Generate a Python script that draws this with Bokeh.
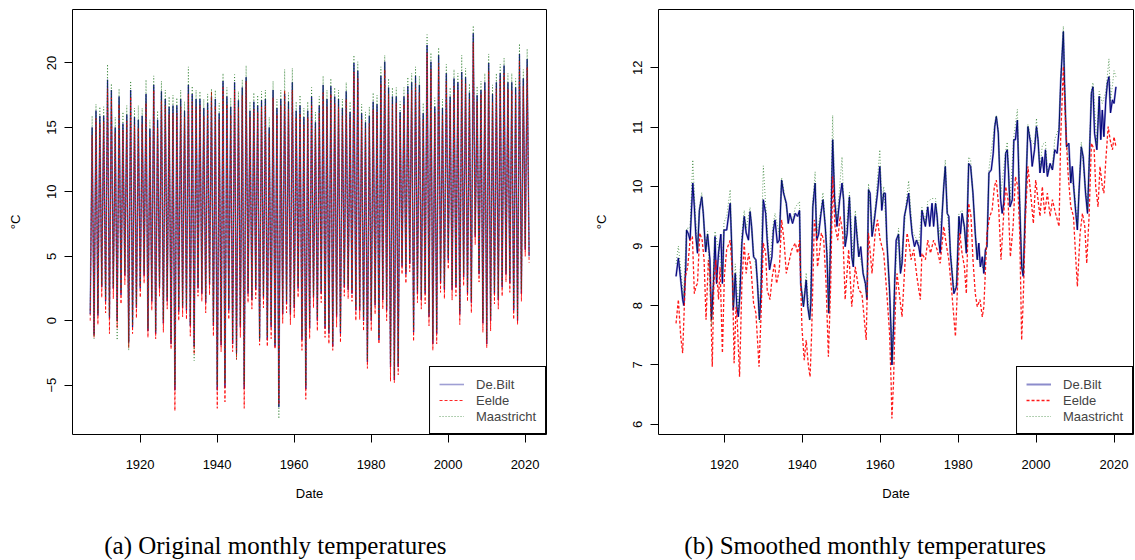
from bokeh.plotting import figure
from bokeh.models import Range1d, FixedTicker, Legend, LegendItem
from bokeh.core.properties import value
from bokeh.layouts import row, column
from bokeh.embed import file_html
from bokeh.resources import INLINE

# ---------------- data: monthly temperatures (winter trough / summer peak per year) ----------------
WINTER_YEARS = list(range(1907, 2022))   # January values
SUMMER_YEARS = list(range(1907, 2021))   # July values

WINTER_DEBILT = [
    0.5, -1.1, 0.4, 2.6, 1.5, 0.2, 2.5, 0.0, 2.0, 3.5,
    -1.7, -0.5, 1.0, 2.5, 3.5, -0.8, 1.5, -1.0, 2.5, -0.2,
    1.5, -1.8, -5.4, 0.7, 1.0, 0.8, -0.4, -2.0, 2.5, 2.1,
    1.4, 2.8, -0.4, -5.4, -1.9, -5.2, 0.8, -1.8, -2.5, -0.5,
    -5.3, 2.1, 1.6, 2.4, -1.4, 1.8, -1.5, -0.5, -2.0, -6.7,
    0.5, 1.3, 0.5, 1.0, 2.5, -1.5, -5.3, -0.6, 1.8, 0.0,
    2.1, -0.6, -1.0, -2.0, 0.3, -1.0, 2.6, 2.4, 2.1, 0.8,
    0.8, 0.0, -3.2, 0.0, 1.2, -1.5, 1.6, 0.8, -3.6, -4.6,
    -3.6, 4.2, 3.6, 4.4, -0.9, 2.1, 1.6, 2.1, 0.3, -1.8,
    -1.0, 2.9, 2.4, 4.7, 2.4, 2.6, 0.5, 3.4, 2.1, 1.4,
    6.5, 3.6, -0.2, -1.8, 0.0, 2.1, 1.6, 2.6, 3.6, 2.9,
    0.8, 0.0, 2.1, 5.5, 5.0]
WINTER_EELDE = [
    0.0, -1.3, -0.3, 1.8, 0.6, -1.0, 1.7, -0.6, 1.3, 2.8,
    -2.1, -1.0, 0.2, 1.8, 2.9, -1.3, 0.8, -1.4, 1.9, -0.9,
    0.9, -2.2, -7.0, 0.0, 0.3, 0.1, -1.2, -2.6, 1.9, 1.5,
    0.6, 2.0, -1.2, -6.8, -2.4, -6.3, 0.1, -2.4, -3.0, -1.3,
    -6.8, 1.4, 0.9, 1.7, -1.9, 1.0, -2.0, -1.4, -2.2, -6.5,
    -0.2, 0.6, -0.3, 0.2, 1.8, -2.3, -6.1, -1.4, 1.0, -0.8,
    1.4, -1.3, -1.8, -2.3, -0.5, -1.7, 1.9, 1.7, 1.5, 0.0,
    0.1, -0.8, -3.7, -0.8, 0.5, -1.8, 0.9, 0.0, -4.7, -4.8,
    -4.2, 3.6, 2.9, 3.8, -1.6, 1.4, 0.9, 1.3, -0.4, -2.3,
    -1.8, 2.2, 1.7, 4.0, 1.6, 1.9, -0.3, 2.7, 1.5, 0.6,
    5.9, 3.0, -0.9, -2.1, -0.8, 1.3, 0.9, 1.9, 3.0, 2.2,
    0.1, -0.3, 1.5, 5.0, 4.5]
WINTER_MAASTRICHT = [
    0.8, -1.4, 0.6, 2.8, 1.8, 0.4, 2.7, -1.5, 2.3, 3.8,
    -2.3, -0.3, 1.2, 2.8, 3.8, -0.6, 1.8, -0.8, 2.7, 0.1,
    1.8, -1.5, -5.0, 1.0, 1.2, 1.1, -0.2, -3.1, 2.8, 2.4,
    1.7, 3.0, -0.1, -5.0, -1.6, -4.8, 1.1, -1.5, -3.0, -0.2,
    -4.9, 2.4, 1.9, 2.7, -1.5, 2.0, -1.2, -0.2, -1.8, -7.6,
    0.8, 1.6, 0.8, 1.3, 2.8, -1.2, -5.0, -0.3, 2.0, 0.3,
    2.4, -0.3, -0.7, -1.7, 0.6, -0.7, 2.9, 2.7, 2.4, 1.1,
    1.1, 0.3, -3.0, 0.3, 1.5, -1.2, 1.9, 1.1, -3.3, -4.3,
    -3.3, 4.5, 3.9, 4.7, -0.6, 2.4, 1.9, 2.4, 0.6, -1.5,
    -0.7, 3.2, 2.7, 5.0, 2.7, 2.9, 0.8, 3.7, 2.4, 1.7,
    6.8, 3.9, 0.1, -1.5, 0.3, 2.4, 1.9, 2.9, 3.9, 3.2,
    1.1, 0.3, 2.4, 5.8, 5.3]

SUMMER_DEBILT = [
    15.0, 16.3, 15.9, 15.9, 18.7, 17.9, 15.0, 17.4, 15.3, 16.0,
    17.9, 15.8, 15.6, 15.9, 17.6, 14.9, 18.3, 15.6, 17.8, 17.2,
    16.6, 16.7, 16.7, 17.2, 16.3, 18.3, 17.6, 17.2, 17.2, 16.5,
    16.9, 17.4, 17.2, 16.1, 18.6, 17.4, 16.6, 18.5, 17.1, 18.1,
    18.9, 16.3, 17.0, 16.7, 17.1, 17.2, 15.0, 17.9, 16.5, 17.2,
    17.6, 17.0, 18.5, 16.3, 16.7, 15.8, 16.3, 17.4, 15.4, 16.7,
    18.3, 17.2, 18.2, 17.4, 17.2, 16.5, 17.8, 16.2, 20.0, 19.4,
    16.1, 15.4, 15.9, 17.0, 16.8, 19.0, 20.1, 18.1, 17.4, 17.4,
    16.2, 17.4, 18.2, 18.5, 19.0, 18.3, 16.1, 21.4, 20.1, 16.6,
    20.6, 16.5, 19.2, 17.4, 18.8, 18.5, 19.3, 18.9, 17.7, 22.3,
    17.5, 17.9, 18.5, 20.0, 17.6, 18.5, 19.2, 19.8, 18.5, 18.5,
    18.1, 20.7, 18.8, 20.3]
SUMMER_EELDE = [
    14.4, 15.7, 15.3, 15.5, 18.0, 17.3, 14.6, 16.8, 14.8, 15.5,
    17.4, 15.2, 15.0, 15.3, 16.9, 14.3, 17.9, 15.0, 17.1, 16.7,
    16.0, 16.1, 16.1, 16.6, 15.8, 17.6, 17.0, 16.6, 16.7, 15.9,
    16.4, 17.8, 16.7, 15.6, 18.1, 16.8, 16.0, 17.9, 16.6, 17.5,
    18.6, 15.8, 16.4, 16.2, 16.6, 16.7, 14.5, 17.3, 16.0, 16.7,
    17.9, 16.4, 17.9, 15.8, 16.1, 15.2, 15.8, 16.8, 14.9, 16.1,
    17.7, 16.6, 17.6, 16.9, 16.6, 15.9, 17.2, 15.7, 19.3, 18.8,
    15.6, 14.9, 15.3, 16.4, 16.2, 18.4, 19.5, 17.6, 16.8, 16.9,
    15.7, 16.8, 17.6, 17.9, 18.4, 17.7, 15.6, 20.8, 19.5, 16.1,
    20.0, 16.0, 18.6, 16.9, 18.2, 17.9, 18.7, 18.4, 17.2, 21.6,
    17.0, 17.6, 17.9, 19.4, 17.0, 18.0, 18.7, 19.2, 18.0, 17.9,
    17.6, 20.2, 18.2, 19.7]
SUMMER_MAASTRICHT = [
    15.9, 16.8, 16.6, 16.6, 19.9, 18.4, 15.8, 18.0, 16.2, 16.7,
    18.6, 16.5, 16.7, 16.5, 18.7, 15.6, 19.0, 16.3, 18.6, 17.9,
    17.4, 17.5, 17.3, 17.9, 17.0, 19.7, 18.2, 17.9, 17.8, 17.2,
    17.6, 18.0, 17.9, 16.9, 19.2, 18.1, 17.3, 19.1, 17.8, 18.7,
    19.8, 17.0, 17.7, 17.5, 17.8, 17.9, 15.8, 18.6, 17.2, 17.9,
    19.5, 17.7, 19.6, 17.0, 17.5, 16.5, 17.0, 18.1, 16.2, 17.4,
    19.0, 17.9, 18.8, 18.1, 17.9, 17.2, 18.5, 17.0, 20.6, 20.1,
    16.8, 16.2, 16.6, 17.7, 17.5, 19.7, 20.6, 18.8, 18.1, 18.1,
    17.0, 18.1, 18.9, 19.2, 19.7, 19.0, 16.9, 22.2, 20.8, 17.3,
    21.2, 17.2, 19.9, 18.1, 19.5, 19.2, 20.6, 19.6, 18.4, 22.9,
    18.2, 18.6, 19.2, 20.7, 18.3, 19.2, 19.9, 20.4, 19.2, 19.2,
    18.8, 21.5, 19.5, 21.1]

# ---------------- data: smoothed monthly temperatures ----------------
SMOOTH_DEBILT_DATE = [
    1907.6, 1908.2, 1908.8, 1909.3, 1909.6, 1910.1, 1910.3, 1910.8, 1911.2, 1911.9,
    1912.3, 1912.7, 1913.1, 1913.6, 1914.2, 1914.6, 1915.2, 1915.7, 1916.3, 1916.7,
    1917.2, 1917.6, 1918.0, 1918.5, 1919.1, 1919.5, 1919.9, 1920.6, 1921.5, 1921.9,
    1922.3, 1922.8, 1923.2, 1923.6, 1924.0, 1924.5, 1925.1, 1925.6, 1926.2, 1926.6,
    1927.0, 1927.5, 1928.1, 1928.5, 1929.0, 1929.4, 1930.0, 1930.6, 1931.0, 1931.6,
    1932.2, 1932.6, 1933.0, 1933.6, 1934.1, 1934.7, 1935.2, 1935.9, 1936.4, 1936.8,
    1937.5, 1938.2, 1938.8, 1939.3, 1939.6, 1940.3, 1941.0, 1941.4, 1941.9, 1942.2,
    1942.7, 1943.3, 1943.7, 1944.2, 1944.8, 1945.3, 1945.9, 1946.3, 1946.8, 1947.3,
    1947.8, 1948.3, 1948.9, 1949.6, 1950.2, 1950.6, 1951.0, 1951.5, 1952.1, 1952.7,
    1953.1, 1953.6, 1954.0, 1954.5, 1955.0, 1955.6, 1956.2, 1956.6, 1957.0, 1957.4,
    1957.9, 1958.3, 1958.7, 1959.3, 1959.9, 1960.4, 1960.9, 1961.3, 1961.7, 1962.4,
    1962.8, 1963.0, 1963.4, 1963.7, 1964.1, 1964.7, 1965.2, 1965.6, 1966.2, 1966.7,
    1967.3, 1967.7, 1968.2, 1968.8, 1969.3, 1969.9, 1970.3, 1970.7, 1971.2, 1971.6,
    1972.2, 1972.7, 1973.3, 1973.7, 1974.2, 1974.6, 1975.0, 1975.4, 1975.9, 1976.3,
    1976.7, 1977.2, 1977.6, 1978.0, 1978.9, 1979.6, 1980.2, 1980.6, 1981.0, 1981.6,
    1982.1, 1982.7, 1983.2, 1983.8, 1984.4, 1984.9, 1985.3, 1985.7, 1986.2, 1986.6,
    1987.0, 1987.4, 1987.9, 1988.5, 1989.0, 1989.4, 1989.8, 1990.3, 1990.9, 1991.3,
    1991.7, 1992.2, 1992.6, 1992.9, 1993.3, 1993.9, 1994.3, 1994.7, 1995.2, 1995.6,
    1996.3, 1996.7, 1997.3, 1997.9, 1998.6, 1999.0, 1999.6, 2000.1, 2000.5, 2001.0,
    2001.6, 2002.0, 2002.4, 2002.9, 2003.6, 2004.2, 2004.8, 2005.4, 2005.9, 2006.3,
    2007.0, 2007.3, 2007.8, 2008.4, 2008.9, 2009.3, 2009.7, 2010.2, 2010.6, 2011.0,
    2011.6, 2012.1, 2012.7, 2013.2, 2013.6, 2014.2, 2014.6, 2015.0, 2015.6, 2016.2,
    2016.6, 2017.0, 2017.4, 2017.9, 2018.3, 2018.7, 2019.1, 2019.6, 2020.0, 2020.5]
SMOOTH_DEBILT = [
    8.49, 8.80, 8.43, 8.10, 8.00, 8.65, 9.27, 9.20, 9.10, 10.06,
    9.66, 9.16, 8.88, 9.60, 9.83, 9.55, 8.90, 9.20, 8.77, 7.76,
    8.37, 9.16, 8.37, 8.88, 9.20, 8.37, 9.27, 9.27, 9.72, 8.99,
    7.92, 8.54, 7.98, 7.81, 8.20, 9.05, 9.50, 9.22, 9.10, 9.58,
    9.33, 8.82, 8.77, 8.37, 7.76, 8.20, 9.78, 9.55, 9.10, 8.60,
    8.82, 9.27, 9.44, 9.05, 9.10, 10.11, 9.89, 9.72, 9.38, 9.55,
    9.38, 9.55, 9.50, 9.60, 8.37, 7.98, 8.43, 7.98, 7.76, 8.04,
    9.66, 10.06, 9.10, 9.20, 9.55, 9.78, 9.33, 8.88, 7.87, 9.20,
    10.79, 9.78, 9.33, 9.78, 10.06, 9.78, 8.99, 9.20, 9.83, 8.82,
    8.65, 9.50, 9.20, 8.82, 8.99, 8.54, 8.37, 8.10, 9.95, 9.89,
    9.16, 9.33, 9.55, 9.89, 10.34, 9.60, 9.89, 9.89, 9.10, 8.26,
    7.53, 7.00, 7.59, 8.37, 9.10, 9.20, 8.54, 8.71, 9.50, 9.66,
    9.89, 9.55, 9.20, 8.99, 9.10, 8.99, 8.82, 9.60, 9.44, 9.33,
    9.66, 9.33, 9.72, 9.33, 9.72, 9.50, 9.10, 8.88, 9.55, 10.00,
    10.34, 9.55, 9.50, 8.88, 8.20, 8.32, 9.50, 9.20, 9.55, 9.33,
    8.88, 10.39, 10.34, 9.89, 9.20, 8.77, 9.05, 8.65, 8.82, 8.54,
    8.94, 8.99, 10.23, 10.28, 10.56, 11.01, 11.18, 10.90, 9.78, 9.55,
    9.72, 10.56, 10.62, 10.28, 9.66, 9.78, 10.79, 10.79, 11.12, 10.11,
    8.65, 8.49, 9.78, 11.01, 10.73, 10.34, 10.62, 11.01, 10.79, 10.23,
    10.50, 10.23, 10.62, 10.17, 10.39, 10.28, 10.62, 10.56, 10.96, 11.74,
    12.61, 11.74, 10.67, 10.73, 10.06, 10.34, 9.95, 9.55, 9.27, 9.89,
    10.67, 10.50, 9.89, 9.55, 10.34, 11.57, 11.68, 10.90, 10.62, 11.52,
    10.79, 11.29, 10.84, 11.46, 11.74, 11.85, 11.24, 11.46, 11.40, 11.68]

SMOOTH_EELDE_DATE = [
    1907.6, 1908.2, 1908.8, 1909.3, 1910.0, 1910.6, 1911.2, 1911.8, 1912.3, 1912.7,
    1913.1, 1913.7, 1914.3, 1914.8, 1915.3, 1915.9, 1916.3, 1916.9, 1917.3, 1917.8,
    1918.5, 1918.9, 1919.5, 1920.0, 1920.6, 1921.5, 1922.1, 1922.5, 1923.0, 1923.3,
    1923.9, 1924.5, 1925.1, 1925.6, 1926.2, 1926.8, 1927.5, 1928.1, 1928.9, 1929.4,
    1930.0, 1930.6, 1931.0, 1931.7, 1932.3, 1932.9, 1933.4, 1934.1, 1934.7, 1935.3,
    1935.9, 1936.7, 1937.3, 1938.2, 1938.8, 1939.3, 1939.9, 1940.5, 1941.0, 1941.6,
    1942.0, 1942.4, 1943.1, 1943.6, 1943.9, 1944.4, 1944.9, 1945.5, 1946.1, 1946.7,
    1947.3, 1947.8, 1948.4, 1949.1, 1949.7, 1950.4, 1950.8, 1951.0, 1951.9, 1952.7,
    1953.6, 1954.5, 1955.3, 1956.4, 1957.0, 1957.9, 1958.7, 1959.3, 1960.0, 1960.9,
    1961.7, 1962.4, 1962.8, 1963.0, 1963.4, 1963.9, 1964.3, 1964.9, 1965.6, 1966.3,
    1966.9, 1967.5, 1967.9, 1968.6, 1969.4, 1970.3, 1970.7, 1971.6, 1972.2, 1972.9,
    1973.7, 1974.6, 1975.4, 1976.3, 1976.9, 1977.6, 1978.4, 1979.3, 1979.7, 1980.4,
    1981.0, 1981.6, 1982.1, 1982.7, 1983.3, 1983.8, 1984.4, 1984.9, 1985.6, 1986.2,
    1986.6, 1987.4, 1988.1, 1988.7, 1989.3, 1989.8, 1990.4, 1991.0, 1991.7, 1992.2,
    1992.8, 1993.4, 1994.1, 1994.7, 1995.3, 1995.8, 1996.3, 1996.7, 1997.3, 1997.9,
    1998.6, 1999.3, 1999.9, 2000.3, 2001.0, 2001.6, 2002.2, 2002.9, 2003.6, 2004.2,
    2005.0, 2005.9, 2006.3, 2007.0, 2007.6, 2008.2, 2008.9, 2009.6, 2010.2, 2010.6,
    2011.3, 2011.9, 2012.5, 2013.0, 2013.6, 2014.2, 2014.9, 2015.3, 2015.9, 2016.4,
    2017.0, 2017.4, 2017.9, 2018.5, 2019.0, 2019.6, 2020.0, 2020.5]
SMOOTH_EELDE = [
    7.70, 8.10, 7.48, 7.20, 8.49, 8.65, 9.10, 9.16, 8.20, 8.32,
    8.37, 9.22, 9.10, 8.77, 7.76, 8.77, 8.54, 6.97, 8.37, 8.77,
    8.10, 8.65, 7.20, 8.49, 8.94, 9.10, 8.49, 7.03, 7.98, 7.76,
    6.80, 8.37, 9.05, 8.54, 8.88, 8.65, 8.04, 7.87, 6.97, 7.81,
    9.05, 8.88, 8.26, 8.10, 8.49, 8.71, 8.37, 8.60, 9.44, 9.10,
    8.54, 8.77, 8.94, 9.05, 8.88, 9.10, 7.64, 7.08, 7.42, 6.97,
    6.80, 7.53, 9.44, 9.22, 8.65, 8.88, 9.22, 9.10, 8.37, 7.14,
    8.37, 10.17, 9.33, 9.10, 9.50, 9.22, 8.49, 8.10, 8.94, 7.98,
    8.65, 8.26, 8.20, 7.42, 9.22, 8.54, 9.22, 9.44, 9.10, 8.88,
    8.20, 7.53, 6.69, 6.10, 6.69, 7.98, 8.54, 8.20, 7.81, 8.65,
    9.22, 8.99, 8.77, 8.94, 8.49, 8.10, 8.88, 8.77, 9.10, 8.88,
    9.10, 8.94, 8.71, 9.33, 9.05, 8.77, 8.20, 7.48, 8.10, 9.22,
    8.88, 8.65, 8.20, 9.72, 9.50, 8.77, 8.20, 7.98, 8.10, 7.81,
    7.98, 9.22, 9.50, 9.60, 10.00, 10.11, 9.66, 8.77, 9.55, 10.00,
    9.78, 8.82, 9.33, 10.17, 10.00, 9.22, 7.42, 8.10, 9.50, 10.34,
    9.89, 9.38, 10.11, 9.89, 9.50, 10.00, 9.55, 9.89, 9.50, 9.78,
    9.55, 9.33, 10.79, 12.02, 11.01, 10.23, 9.66, 9.50, 8.77, 8.32,
    9.22, 9.55, 9.33, 8.71, 9.50, 10.73, 10.62, 10.00, 9.66, 10.34,
    10.00, 9.89, 10.45, 11.01, 10.79, 10.62, 10.84, 10.67]

SMOOTH_MAASTRICHT_DATE = [
    1907.6, 1908.2, 1908.8, 1909.5, 1910.3, 1911.2, 1911.9, 1912.5, 1913.1, 1913.6,
    1914.2, 1915.2, 1915.7, 1916.7, 1917.6, 1918.5, 1919.5, 1919.9, 1920.6, 1921.5,
    1922.3, 1922.8, 1923.6, 1924.5, 1925.1, 1925.6, 1926.6, 1927.5, 1928.5, 1929.0,
    1930.0, 1930.6, 1931.6, 1932.6, 1933.0, 1934.1, 1934.7, 1935.2, 1936.4, 1937.5,
    1938.2, 1939.3, 1939.6, 1940.3, 1941.0, 1941.9, 1942.7, 1943.3, 1943.7, 1944.8,
    1945.3, 1946.3, 1946.8, 1947.8, 1948.3, 1948.9, 1949.6, 1950.2, 1951.0, 1952.1,
    1953.1, 1953.6, 1954.5, 1955.6, 1956.6, 1957.0, 1957.9, 1958.7, 1959.9, 1960.4,
    1960.9, 1961.7, 1962.8, 1963.0, 1963.7, 1964.7, 1965.2, 1966.7, 1967.3, 1968.2,
    1969.9, 1970.7, 1971.6, 1972.2, 1973.3, 1974.2, 1975.0, 1975.9, 1976.7, 1977.2,
    1978.0, 1978.9, 1979.6, 1980.2, 1981.0, 1982.1, 1982.7, 1983.2, 1984.4, 1984.9,
    1986.6, 1987.4, 1987.9, 1989.4, 1989.8, 1990.3, 1990.9, 1992.2, 1992.6, 1993.3,
    1994.3, 1995.2, 1996.3, 1996.7, 1997.9, 1998.6, 1999.6, 2000.1, 2001.0, 2001.6,
    2002.4, 2002.9, 2004.2, 2004.8, 2005.9, 2006.3, 2007.0, 2007.3, 2007.8, 2008.9,
    2009.7, 2010.6, 2011.6, 2012.7, 2013.2, 2014.2, 2014.6, 2015.6, 2016.2, 2017.0,
    2017.9, 2018.7, 2019.1, 2019.6, 2020.0, 2020.5]
SMOOTH_MAASTRICHT = [
    8.70, 9.00, 8.60, 8.15, 9.30, 9.30, 10.45, 9.60, 8.95, 9.65,
    9.90, 8.95, 9.25, 7.65, 9.25, 8.95, 8.50, 9.40, 9.50, 9.95,
    8.00, 8.70, 7.90, 9.20, 9.60, 9.30, 9.65, 8.90, 8.45, 7.70,
    10.35, 9.70, 8.70, 9.40, 9.55, 9.20, 10.15, 9.95, 9.45, 9.45,
    9.65, 9.75, 8.40, 8.00, 8.55, 7.75, 9.75, 10.25, 9.20, 9.60,
    9.90, 9.00, 7.90, 11.20, 9.90, 9.45, 10.00, 10.50, 9.05, 9.90,
    8.70, 9.60, 8.90, 8.60, 8.15, 10.05, 9.25, 9.65, 10.62, 9.70,
    10.00, 9.15, 7.55, 7.05, 8.40, 9.30, 8.60, 9.75, 10.10, 9.25,
    9.05, 9.65, 9.40, 9.75, 9.80, 9.80, 9.15, 9.60, 10.45, 9.60,
    8.95, 8.25, 8.40, 9.55, 9.60, 8.95, 10.50, 10.45, 9.25, 8.80,
    8.60, 9.05, 10.30, 11.05, 11.20, 10.95, 9.85, 10.60, 10.75, 9.75,
    10.85, 11.30, 8.70, 8.55, 11.05, 10.80, 10.70, 11.15, 10.30, 10.70,
    10.75, 10.25, 10.35, 10.80, 11.00, 11.80, 12.70, 11.80, 10.75, 10.15,
    10.00, 9.35, 10.75, 9.95, 9.60, 11.62, 11.75, 10.70, 11.60, 11.40,
    11.60, 12.15, 11.45, 11.70, 11.95, 11.85]

X_TICKS = [1920, 1940, 1960, 1980, 2000, 2020]
Y_TICKS_LEFT = [-5, 0, 5, 10, 15, 20]
Y_TICKS_RIGHT = [6, 7, 8, 9, 10, 11, 12]
SERIES_NAMES = ["De.Bilt", "Eelde", "Maastricht"]
CAPTIONS = ["(a) Original monthly temperatures", "(b) Smoothed monthly temperatures"]


def interleave(winter, summer):
    xs, ys = [], []
    for i, yr in enumerate(WINTER_YEARS):
        xs.append(yr + 0.04)
        ys.append(winter[i])
        if i < len(SUMMER_YEARS):
            xs.append(SUMMER_YEARS[i] + 0.54)
            ys.append(summer[i])
    return xs, ys


SANS = "Liberation Sans"
SERIF = "Liberation Serif"
PANEL_H = 522
CAP_H = 38


def make_panel(width, bl, br, xr, yr, yticks):
    p = figure(width=width, height=PANEL_H, output_backend="svg", toolbar_location=None,
               x_range=Range1d(*xr), y_range=Range1d(*yr),
               min_border_left=bl, min_border_right=br, min_border_top=9,
               min_border_bottom=PANEL_H - 434)
    p.grid.visible = False
    p.outline_line_color = "black"
    p.outline_line_width = 1
    p.outline_line_alpha = 1
    p.background_fill_color = "white"
    p.border_fill_color = "white"
    for ax in (p.xaxis[0], p.yaxis[0]):
        ax.axis_line_color = None
        ax.major_tick_out = 8
        ax.major_tick_in = 0
        ax.minor_tick_line_color = None
        ax.major_tick_line_color = "black"
        ax.major_label_text_font = SANS
        ax.major_label_text_font_size = "13px"
        ax.major_label_text_color = "black"
        ax.axis_label_text_font = SANS
        ax.axis_label_text_font_size = "13px"
        ax.axis_label_text_font_style = "normal"
        ax.axis_label_text_color = "black"
    p.xaxis.ticker = FixedTicker(ticks=X_TICKS)
    p.yaxis.ticker = FixedTicker(ticks=yticks)
    p.xaxis.axis_label = "Date"
    p.yaxis.axis_label = "°C"
    p.xaxis.major_label_standoff = 17
    p.xaxis.axis_label_standoff = 14
    p.yaxis.major_label_orientation = "vertical"
    p.yaxis.major_label_standoff = 8
    p.yaxis.axis_label_standoff = 22
    return p


def make_caption(width, caption, x_left):
    c = figure(width=width, height=CAP_H, output_backend="svg", toolbar_location=None,
               x_range=Range1d(0, width), y_range=Range1d(0, CAP_H),
               x_axis_type=None, y_axis_type=None,
               min_border_left=0, min_border_right=0, min_border_top=0, min_border_bottom=0)
    c.grid.visible = False
    c.outline_line_color = None
    c.background_fill_color = "white"
    c.border_fill_color = "white"
    c.text(x=[x_left], y=[CAP_H - 23], text=[caption], text_font=value(SERIF),
           text_font_size="25px", text_color="black", text_align="left", text_baseline="middle")
    return c


def add_legend(p, renderers):
    items = [LegendItem(label=n, renderers=[r]) for n, r in zip(SERIES_NAMES, renderers)]
    leg = Legend(items=items, location="bottom_right", margin=0, padding=9, spacing=0,
                 glyph_width=25, glyph_height=16, label_height=16, label_standoff=12,
                 label_text_font=SANS, label_text_font_size="13px",
                 border_line_color="black", border_line_width=1, border_line_alpha=1,
                 background_fill_color="white", background_fill_alpha=1)
    p.add_layout(leg)


# ---------------- left panel ----------------
left = make_panel(583, 72, 37, (1902.44, 2025.56), (-8.83, 24.15), Y_TICKS_LEFT)
x_db, y_db = interleave(WINTER_DEBILT, SUMMER_DEBILT)
x_ee, y_ee = interleave(WINTER_EELDE, SUMMER_EELDE)
x_ma, y_ma = interleave(WINTER_MAASTRICHT, SUMMER_MAASTRICHT)
r_db = left.line(x_db, y_db, line_color="#7f7fc5", line_width=1.6, line_alpha=0.75)
left.line(x_db, y_db, line_color="#00007a", line_width=0.7, line_alpha=0.9)
r_ee = left.line(x_ee, y_ee, line_color="#ff0000", line_width=1.0, line_dash="3 2", line_alpha=0.85)
r_ma = left.line(x_ma, y_ma, line_color="#006400", line_width=1.0, line_dash="1 2", line_alpha=0.6)
add_legend(left, [r_db, r_ee, r_ma])

# ---------------- right panel ----------------
right = make_panel(552, 75, 2, (1903.1, 2025.0), (5.83, 12.98), Y_TICKS_RIGHT)
s_db = right.line(SMOOTH_DEBILT_DATE, SMOOTH_DEBILT, line_color="#7f7fc5", line_width=2.0, line_alpha=0.9)
right.line(SMOOTH_DEBILT_DATE, SMOOTH_DEBILT, line_color="#00007a", line_width=1.0)
s_ee = right.line(SMOOTH_EELDE_DATE, SMOOTH_EELDE, line_color="#ff0000", line_width=1.3, line_dash="3 2", line_alpha=0.9)
s_ma = right.line(SMOOTH_MAASTRICHT_DATE, SMOOTH_MAASTRICHT, line_color="#006400", line_width=1.0, line_dash="1 2", line_alpha=0.6)
add_legend(right, [s_db, s_ee, s_ma])

cap_left = make_caption(583, CAPTIONS[0], 39)
cap_right = make_caption(552, CAPTIONS[1], 30)

layout = row(column(left, cap_left), column(right, cap_right))
open("out.html", "w").write(file_html(layout, INLINE))
